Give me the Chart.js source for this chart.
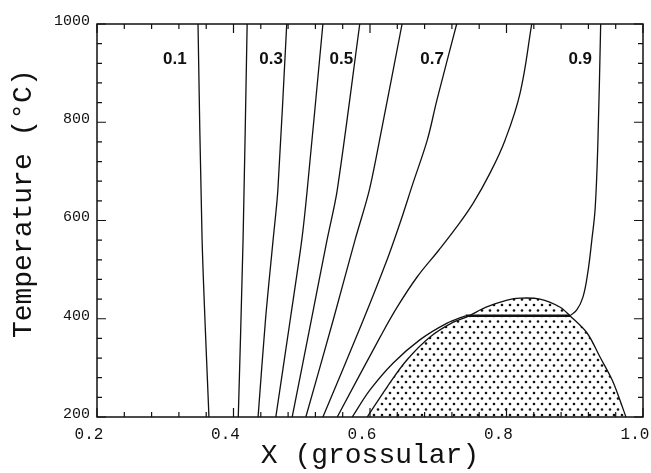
<!DOCTYPE html>
<html>
<head>
<meta charset="utf-8">
<script src="https://cdn.jsdelivr.net/npm/chart.js@4"></script>
<style>
  html, body { margin: 0; padding: 0; background: #fff; }
  canvas { display: block; }
</style>
</head>
<body>
<canvas id="chart" width="651" height="473"></canvas>
<script>
// axis ranges / ticks
const xMin = 0.2, xMax = 1.0, xStep = 0.2, xMinorStep = 0.04;
const tMin = 200, tMax = 1000, tStep = 200, tMinorStep = 40;

// isopleths (x grossular vs temperature)
const iso1X = [0.348, 0.354, 0.364];
const iso1T = [1000, 560, 200];
const iso2X = [0.420, 0.414, 0.407];
const iso2T = [1000, 560, 200];
const iso3X = [0.478, 0.465, 0.458, 0.447, 0.436];
const iso3T = [1000, 662, 560, 400, 200];
const iso4X = [0.531, 0.508, 0.500, 0.483, 0.462];
const iso4T = [1000, 662, 560, 397, 200];
const iso5X = [0.585, 0.552, 0.537, 0.514, 0.486];
const iso5T = [1000, 662, 560, 397, 200];
const iso6X = [0.647, 0.616, 0.599, 0.578, 0.546, 0.506];
const iso6T = [1000, 778, 662, 560, 397, 200];
const iso7X = [0.727, 0.698, 0.684, 0.663, 0.644, 0.625, 0.590, 0.531];
const iso7T = [1000, 845, 764, 676, 595, 520, 397, 200];
const iso8X = [0.837, 0.820, 0.798, 0.776, 0.751, 0.727, 0.701, 0.669, 0.640, 0.615, 0.552];
const iso8T = [1000, 860, 764, 697, 635, 587, 540, 485, 424, 363, 200];
const iso9X = [0.938, 0.934, 0.930, 0.925, 0.919, 0.912, 0.903, 0.893];
const iso9T = [1000, 764, 627, 560, 493, 444, 418, 406];
const tieX = [0.740, 0.893];
const tieT = [406, 406];
const iso9LowX = [0.740, 0.713, 0.673, 0.634, 0.600, 0.574];
const iso9LowT = [406, 391, 357, 310, 255, 200];

// solvus (dotted two-phase field)
const solvusX = [0.596, 0.625, 0.654, 0.688, 0.722, 0.742, 0.771, 0.801, 0.820, 0.849, 0.878, 0.893, 0.918, 0.937, 0.955, 0.966, 0.975];
const solvusT = [200, 261, 316, 363, 393, 404, 424, 438, 442, 440, 424, 406, 371, 322, 275, 235, 200];

// curve labels
const labelText = ['0.1', '0.3', '0.5', '0.7', '0.9'];
const labelX = [0.314, 0.455, 0.558, 0.691, 0.908];
const labelT = [929, 929, 929, 929, 929];

const INK = '#111';

function pts(xs, ts) {
  return xs.map((v, i) => ({ x: v, y: ts[i] }));
}

function dotPattern() {
  const c = document.createElement('canvas');
  c.width = 8; c.height = 11;
  const g = c.getContext('2d');
  g.fillStyle = '#111';
  g.beginPath();
  g.arc(2, 2.5, 1.35, 0, Math.PI * 2);
  g.arc(6, 8, 1.35, 0, Math.PI * 2);
  g.fill();
  return document.getElementById('chart').getContext('2d').createPattern(c, 'repeat');
}

function line(xs, ts, width, tension) {
  return {
    data: pts(xs, ts),
    showLine: true,
    borderColor: INK,
    borderWidth: width,
    pointRadius: 0,
    tension: tension,
    fill: false
  };
}

const frameTicks = {
  id: 'frameTicks',
  afterDatasetsDraw(chart) {
    const { ctx, chartArea: a, scales: { x, y } } = chart;
    ctx.save();
    ctx.strokeStyle = INK;
    ctx.lineWidth = 1.5;
    ctx.strokeRect(a.left, a.top, a.right - a.left, a.bottom - a.top);
    ctx.lineWidth = 1.2;
    ctx.beginPath();
    const nx = Math.round((xMax - xMin) / xMinorStep);
    for (let i = 0; i <= nx; i++) {
      const v = xMin + i * xMinorStep;
      const major = Math.abs(v / xStep - Math.round(v / xStep)) < 1e-6;
      const len = major ? 9 : 5;
      const px = x.getPixelForValue(v);
      ctx.moveTo(px, a.bottom); ctx.lineTo(px, a.bottom - len);
      ctx.moveTo(px, a.top); ctx.lineTo(px, a.top + len);
    }
    const ny = Math.round((tMax - tMin) / tMinorStep);
    for (let i = 0; i <= ny; i++) {
      const v = tMin + i * tMinorStep;
      const major = v % tStep === 0;
      const len = major ? 9 : 5;
      const py = y.getPixelForValue(v);
      ctx.moveTo(a.left, py); ctx.lineTo(a.left + len, py);
      ctx.moveTo(a.right, py); ctx.lineTo(a.right - len, py);
    }
    ctx.stroke();

    // isopleth labels
    ctx.fillStyle = INK;
    ctx.font = 'bold 17px "Liberation Sans", Arial, sans-serif';
    ctx.textAlign = 'center';
    ctx.textBaseline = 'middle';
    labelText.forEach((t, i) => {
      ctx.fillText(t, x.getPixelForValue(labelX[i]), y.getPixelForValue(labelT[i]));
    });
    ctx.restore();
  }
};

const datasets = [
  line(iso1X, iso1T, 1.3, 0.3),
  line(iso2X, iso2T, 1.3, 0.3),
  line(iso3X, iso3T, 1.3, 0.3),
  line(iso4X, iso4T, 1.3, 0.3),
  line(iso5X, iso5T, 1.3, 0.3),
  line(iso6X, iso6T, 1.3, 0.3),
  line(iso7X, iso7T, 1.3, 0.35),
  line(iso8X, iso8T, 1.3, 0.4),
  line(iso9X, iso9T, 1.3, 0.4),
  line(tieX, tieT, 2.6, 0),
  line(iso9LowX, iso9LowT, 1.3, 0.35),
  Object.assign(line(solvusX, solvusT, 1.3, 0.35), {
    fill: 'start',
    backgroundColor: dotPattern()
  })
];

const monoFont = '"Liberation Mono", "DejaVu Sans Mono", monospace';

new Chart(document.getElementById('chart'), {
  type: 'scatter',
  data: { datasets },
  options: {
    responsive: false,
    devicePixelRatio: 1,
    animation: false,
    layout: { padding: { top: 24, right: 8, left: 0, bottom: 0 } },
    plugins: { legend: { display: false }, tooltip: { enabled: false } },
    scales: {
      x: {
        type: 'linear',
        min: xMin,
        max: xMax,
        grid: { display: false, drawTicks: false },
        border: { display: false },
        ticks: {
          stepSize: xStep,
          color: INK,
          padding: 8,
          labelOffset: -8,
          maxRotation: 0,
          font: { family: monoFont, size: 16 },
          callback: v => Number(v).toFixed(1)
        },
        title: {
          display: true,
          text: 'X (grossular)',
          color: INK,
          font: { family: monoFont, size: 28, lineHeight: 1 },
          padding: { top: 0, bottom: 3 }
        },
        afterFit(s) { s.height = 56; s.paddingLeft = 0; s.paddingRight = 0; }
      },
      y: {
        type: 'linear',
        min: tMin,
        max: tMax,
        grid: { display: false, drawTicks: false },
        border: { display: false },
        ticks: {
          stepSize: tStep,
          color: INK,
          padding: 7,
          labelOffset: -3,
          font: { family: monoFont, size: 15 },
          callback: v => String(v)
        },
        title: {
          display: true,
          text: '  Temperature (°C)',
          color: INK,
          font: { family: monoFont, size: 28, lineHeight: 1 },
          padding: { top: 10, bottom: 0 }
        },
        afterFit(s) { s.width = 97; s.paddingTop = 0; s.paddingBottom = 0; }
      }
    }
  },
  plugins: [frameTicks]
});
</script>
</body>
</html>
